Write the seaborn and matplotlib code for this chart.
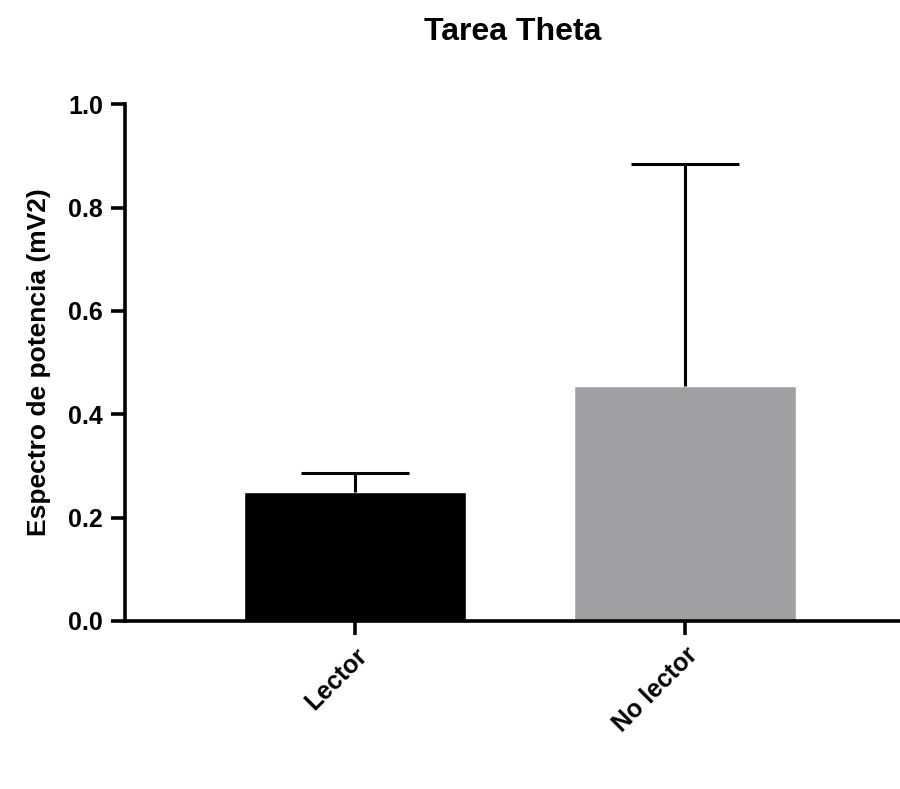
import numpy as np
import pandas as pd
import seaborn as sns
import matplotlib.pyplot as plt

# Datos
grupos = ["Lector", "No lector"]
medias = [0.250, 0.455]
errores = [0.037, 0.429]   # solo barra superior
colores = ["#000000", "#a09fa4"]

sns.set_theme(style="ticks")
plt.rcParams['font.family'] = ['Liberation Sans', 'DejaVu Sans']
plt.rcParams['font.weight'] = 'bold'
plt.rcParams['text.color'] = 'black'
plt.rcParams['axes.labelcolor'] = 'black'

df = pd.DataFrame({"grupo": grupos, "valor": medias})

fig = plt.figure(figsize=(9, 7.89), dpi=100)
ax = fig.add_axes([0.139, 0.213, 0.861, 0.655])

sns.barplot(data=df, x="grupo", y="valor", hue="grupo", palette=colores,
            width=0.675, errorbar=None, legend=False, ax=ax)

# Barras de error (solo hacia arriba)
eb = ax.errorbar(x=np.arange(len(grupos)), y=medias,
                 yerr=[np.zeros(len(errores)), errores],
                 fmt="none", ecolor="black", elinewidth=2.2,
                 capsize=39, capthick=2.2, zorder=3)
# ocultar la tapa inferior (coincide con la parte superior de la barra)
for cap in eb[1]:
    if np.allclose(cap.get_ydata(), medias):
        cap.set_visible(False)

ax.set_ylim(0, 1.0)
ax.set_yticks([0.0, 0.2, 0.4, 0.6, 0.8, 1.0])
ax.set_xlim(-0.697, 1.652)

sns.despine(ax=ax)
for s in ["left", "bottom"]:
    ax.spines[s].set_linewidth(2.6)
    ax.spines[s].set_color("black")

ax.tick_params(axis="both", width=2.6, length=10, color="black",
               labelcolor="black", pad=6)
ax.set_yticks(ax.get_yticks())
ax.set_yticklabels([f"{t:.1f}" for t in ax.get_yticks()],
                   fontweight="bold", fontsize=18)
ax.set_xticks(range(len(grupos)))
ax.set_xticklabels(grupos, rotation=45, ha="right", rotation_mode="anchor",
                   fontweight="bold", fontsize=18)

ax.set_xlabel("")
ax.set_ylabel("Espectro de potencia (mV2)", fontsize=19, fontweight="bold",
              labelpad=12, color="black")
ax.set_title("Tarea Theta", fontsize=23, fontweight="bold", pad=46,
             color="black")

fig.savefig("out.png", dpi=100)
